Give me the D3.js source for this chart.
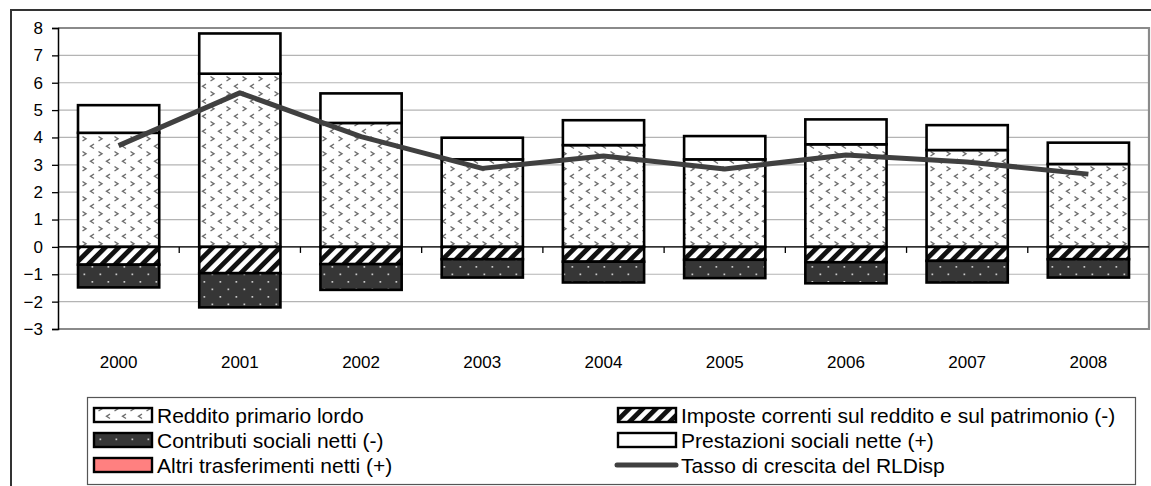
<!DOCTYPE html>
<html>
<head>
<meta charset="utf-8">
<script src="https://cdn.jsdelivr.net/npm/d3@7"></script>
<style>
  html, body { margin: 0; padding: 0; background: #fff; }
  svg { display: block; font-family: "Liberation Sans", Arial, sans-serif; }
</style>
</head>
<body>
<svg id="chart" width="1151" height="486"></svg>
<script>
// ---- data ----
const years = ["2000", "2001", "2002", "2003", "2004", "2005", "2006", "2007", "2008"];
const redditoPrimario = [4.17, 6.33, 4.53, 3.20, 3.72, 3.20, 3.75, 3.54, 3.03];
const imposte = [-0.65, -0.96, -0.63, -0.45, -0.54, -0.47, -0.56, -0.51, -0.45];
const contributi = [-0.83, -1.25, -0.94, -0.67, -0.76, -0.67, -0.77, -0.79, -0.67];
const prestazioni = [1.01, 1.47, 1.08, 0.79, 0.91, 0.85, 0.91, 0.91, 0.78];
const altriTrasferimenti = [0, 0, 0, 0, 0, 0, 0, 0, 0];
const tassoCrescita = [3.70, 5.63, 4.03, 2.87, 3.32, 2.85, 3.36, 3.10, 2.66];
const yTicks = [8, 7, 6, 5, 4, 3, 2, 1, 0, -1, -2, -3];

const seriesNames = {
  reddito: "Reddito primario lordo",
  imposte: "Imposte correnti sul reddito e sul patrimonio (-)",
  contributi: "Contributi sociali netti (-)",
  prestazioni: "Prestazioni sociali nette (+)",
  altri: "Altri trasferimenti netti (+)",
  tasso: "Tasso di crescita del RLDisp"
};

const table = years.map((y, i) => ({
  year: y,
  reddito: redditoPrimario[i],
  imposte: imposte[i],
  contributi: contributi[i],
  prestazioni: prestazioni[i],
  altri: altriTrasferimenti[i],
  tasso: tassoCrescita[i]
}));

const svg = d3.select("#chart");
const defs = svg.append("defs");

// patterns
const pR = defs.append("pattern").attr("id", "pReddito").attr("patternUnits", "userSpaceOnUse")
  .attr("width", 16).attr("height", 15);
pR.append("rect").attr("width", 16).attr("height", 15).attr("fill", "#fff");
pR.append("path").attr("d", "M2.5,1.5 L6,3.8 L2.5,6").attr("fill", "none").attr("stroke", "#6e6e6e").attr("stroke-width", 1.4);
pR.append("path").attr("d", "M14,9 L10.5,11.3 L14,13.5").attr("fill", "none").attr("stroke", "#6e6e6e").attr("stroke-width", 1.4);

const pI = defs.append("pattern").attr("id", "pImposte").attr("patternUnits", "userSpaceOnUse")
  .attr("width", 9.5).attr("height", 9.5).attr("patternTransform", "rotate(45)");
pI.append("rect").attr("width", 9.5).attr("height", 9.5).attr("fill", "#fff");
pI.append("rect").attr("width", 4.8).attr("height", 9.5).attr("fill", "#111");

const pC = defs.append("pattern").attr("id", "pContributi").attr("patternUnits", "userSpaceOnUse")
  .attr("width", 16).attr("height", 15);
pC.append("rect").attr("width", 16).attr("height", 15).attr("fill", "#363636");
pC.append("rect").attr("x", 3.5).attr("y", 3.5).attr("width", 1.7).attr("height", 1.7).attr("fill", "#c8c8c8");
pC.append("rect").attr("x", 11.5).attr("y", 11).attr("width", 1.7).attr("height", 1.7).attr("fill", "#c8c8c8");

const fills = {
  reddito: "url(#pReddito)",
  imposte: "url(#pImposte)",
  contributi: "url(#pContributi)",
  prestazioni: "#ffffff",
  altri: "#ff8080"
};

// outer frame
svg.append("rect").attr("x", 11).attr("y", 10).attr("width", 1160).attr("height", 500)
  .attr("fill", "none").attr("stroke", "#333").attr("stroke-width", 2);

// plot geometry
const plot = { left: 58, right: 1149, top: 28, bottom: 329 };
const x = d3.scaleBand().domain(years).range([plot.left, plot.right]).paddingInner(0.33).paddingOuter(0.165);
const y = d3.scaleLinear().domain([-3, 8]).range([plot.bottom, plot.top]);

// gridlines
svg.append("g").selectAll("line").data(yTicks).join("line")
  .attr("x1", plot.left).attr("x2", plot.right)
  .attr("y1", d => y(d)).attr("y2", d => y(d))
  .attr("stroke", "#b4b4b4").attr("stroke-width", 1.2);

// plot border (top, right, bottom)
svg.append("path")
  .attr("d", `M${plot.left},${plot.top} H${plot.right} V${plot.bottom} H${plot.left}`)
  .attr("fill", "none").attr("stroke", "#8a8a8a").attr("stroke-width", 2.2);

// stacked bars
const keys = ["reddito", "imposte", "contributi", "prestazioni", "altri"];
const stacked = d3.stack().keys(keys).offset(d3.stackOffsetDiverging)(table);

const gBars = svg.append("g");
stacked.forEach(s => {
  gBars.append("g").selectAll("rect")
    .data(s.filter(d => Math.abs(d[1] - d[0]) > 1e-9))
    .join("rect")
    .attr("x", d => x(d.data.year))
    .attr("width", x.bandwidth())
    .attr("y", d => y(Math.max(d[0], d[1])))
    .attr("height", d => Math.abs(y(d[0]) - y(d[1])))
    .attr("fill", fills[s.key])
    .attr("stroke", "#000").attr("stroke-width", 2.6);
});

// zero axis with category ticks
const y0 = y(0);
svg.append("line").attr("x1", plot.left).attr("x2", plot.right).attr("y1", y0).attr("y2", y0)
  .attr("stroke", "#000").attr("stroke-width", 1.3);
const step = x.step();
const boundaries = d3.range(1, years.length).map(i => plot.left + i * step);
svg.append("g").selectAll("line").data(boundaries).join("line")
  .attr("x1", d => d).attr("x2", d => d).attr("y1", y0).attr("y2", y0 + 6)
  .attr("stroke", "#000").attr("stroke-width", 1.3);

// y axis
const yAxis = d3.axisLeft(y).tickValues(yTicks).tickSize(6).tickPadding(9).tickFormat(d3.format("d"));
const gy = svg.append("g").attr("transform", `translate(${plot.left},0)`).call(yAxis);
gy.select(".domain").attr("stroke", "#000").attr("stroke-width", 1.5);
gy.selectAll(".tick line").attr("stroke", "#000").attr("stroke-width", 1.3);
gy.selectAll(".tick text").attr("font-size", 17).attr("fill", "#000")
  .attr("font-family", "'Liberation Sans', Arial, sans-serif");

// x labels
const xAxis = d3.axisBottom(x).tickSize(0).tickPadding(0);
const gx = svg.append("g").attr("transform", `translate(0,${plot.bottom})`).call(xAxis);
gx.select(".domain").remove();
gx.selectAll(".tick text").attr("y", 33).attr("dy", "0.35em").attr("font-size", 17).attr("fill", "#000")
  .attr("font-family", "'Liberation Sans', Arial, sans-serif");

// line
const line = d3.line().x(d => x(d.year) + x.bandwidth() / 2).y(d => y(d.tasso));
svg.append("path").datum(table).attr("d", line)
  .attr("fill", "none").attr("stroke", "#404040").attr("stroke-width", 5).attr("stroke-linejoin", "round");

// legend
svg.append("rect").attr("x", 87.5).attr("y", 397.5).attr("width", 1048).attr("height", 87)
  .attr("fill", "#fff").attr("stroke", "#555").attr("stroke-width", 1.2);
const legendItems = [
  { key: "reddito", col: 0, row: 0 },
  { key: "imposte", col: 1, row: 0 },
  { key: "contributi", col: 0, row: 1 },
  { key: "prestazioni", col: 1, row: 1 },
  { key: "altri", col: 0, row: 2 },
  { key: "tasso", col: 1, row: 2 }
];
const colX = [93, 617];
const rowY = [415, 440, 465];
const lg = svg.append("g");
legendItems.forEach(it => {
  const lx = colX[it.col], ly = rowY[it.row];
  if (it.key === "tasso") {
    lg.append("line").attr("x1", lx).attr("x2", lx + 59).attr("y1", ly).attr("y2", ly)
      .attr("stroke", "#404040").attr("stroke-width", 5).attr("stroke-linecap", "round");
  } else {
    lg.append("rect").attr("x", lx + 1).attr("y", ly - 7).attr("width", 58).attr("height", 14)
      .attr("fill", fills[it.key]).attr("stroke", "#000").attr("stroke-width", 2.4);
  }
  lg.append("text").attr("x", lx + 64).attr("y", ly).attr("dy", "0.36em")
    .attr("font-size", 21).attr("fill", "#000").text(seriesNames[it.key]);
});
</script>
</body>
</html>
